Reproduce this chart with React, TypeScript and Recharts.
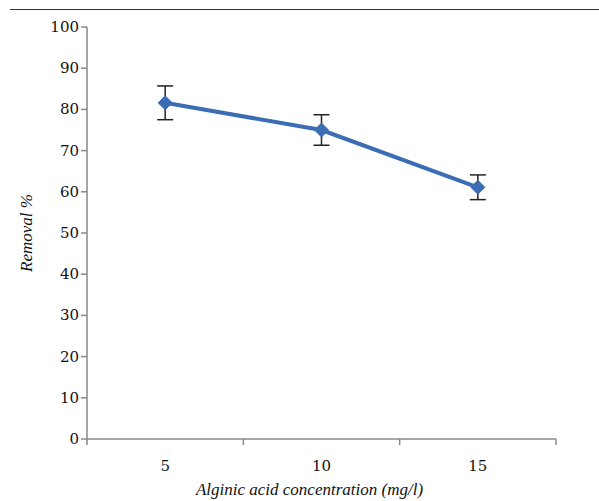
import { LineChart, Line, XAxis, YAxis, ErrorBar, Label } from 'recharts'

const categories = ['5', '10', '15']
const removal = [81.6, 75.0, 61.1]
const errors = [4.1, 3.7, 3.0]
const yTicks = [0, 10, 20, 30, 40, 50, 60, 70, 80, 90, 100]

const data = categories.map((c, i) => ({
  pos: i + 0.5,
  category: c,
  value: removal[i],
  err: errors[i],
}))

const xTicks = [0, 0.5, 1, 1.5, 2, 2.5, 3]
const tickFont = '"DejaVu Serif", serif'
const labelFont = '"Liberation Serif", serif'
const axisColor = '#888888'
const lineColor = '#3B6DB5'

const XTick = (props: any) => {
  const { x, y, payload } = props
  const v = payload.value
  if (Number.isInteger(v)) {
    return <line x1={x} y1={y} x2={x} y2={y + 6} stroke={axisColor} strokeWidth={1.5} />
  }
  const label = categories[Math.floor(v)]
  return (
    <text x={x} y={y + 32} textAnchor="middle" fontFamily={tickFont} fontSize={15} fill="#111">
      {label}
    </text>
  )
}

const YTick = (props: any) => {
  const { x, y, payload } = props
  return (
    <text x={x} y={y} dy={5} textAnchor="end" fontFamily={tickFont} fontSize={15} fill="#111">
      {payload.value}
    </text>
  )
}

const Diamond = (props: any) => {
  const { cx, cy } = props
  if (cx == null || cy == null) return null
  const r = 7
  return (
    <path
      d={`M${cx},${cy - r}L${cx + r},${cy}L${cx},${cy + r}L${cx - r},${cy}Z`}
      fill={lineColor}
      stroke={lineColor}
    />
  )
}

export default function App() {
  return (
    <div style={{ position: 'absolute', left: 0, top: 0, width: 599, height: 501, background: '#fff' }}>
      <div style={{ position: 'absolute', left: 10, top: 9, width: 589, height: 1, background: '#333' }} />
      <LineChart
        width={599}
        height={501}
        data={data}
        margin={{ top: 27, right: 43, left: 0, bottom: 0 }}
      >
        <XAxis
          dataKey="pos"
          type="number"
          domain={[0, 3]}
          ticks={xTicks}
          interval={0}
          tickLine={false}
          tickSize={0}
          tickMargin={0}
          tick={<XTick />}
          height={62}
          axisLine={{ stroke: axisColor, strokeWidth: 1.5 }}
        >
          <Label
            value="Alginic acid concentration (mg/l)"
            position="insideBottom"
            offset={6}
            dx={-12}
            style={{ fontFamily: labelFont, fontSize: 17, fontStyle: 'italic', fill: '#111' }}
          />
        </XAxis>
        <YAxis
          type="number"
          domain={[0, 100]}
          ticks={yTicks}
          interval={0}
          width={87}
          tickSize={6}
          tickMargin={2}
          tick={<YTick />}
          tickLine={{ stroke: axisColor, strokeWidth: 1.5 }}
          axisLine={{ stroke: axisColor, strokeWidth: 1.5 }}
        >
          <Label
            value="Removal %"
            angle={-90}
            position="insideLeft"
            offset={26}
            textAnchor="middle"
            style={{ fontFamily: labelFont, fontSize: 17, fontStyle: 'italic', fill: '#111', textAnchor: 'middle' }}
          />
        </YAxis>
        <Line
          dataKey="value"
          stroke={lineColor}
          strokeWidth={4}
          dot={<Diamond />}
          activeDot={false}
          isAnimationActive={false}
        >
          <ErrorBar dataKey="err" direction="y" width={8} stroke="#222" strokeWidth={1.5} />
        </Line>
      </LineChart>
    </div>
  )
}
